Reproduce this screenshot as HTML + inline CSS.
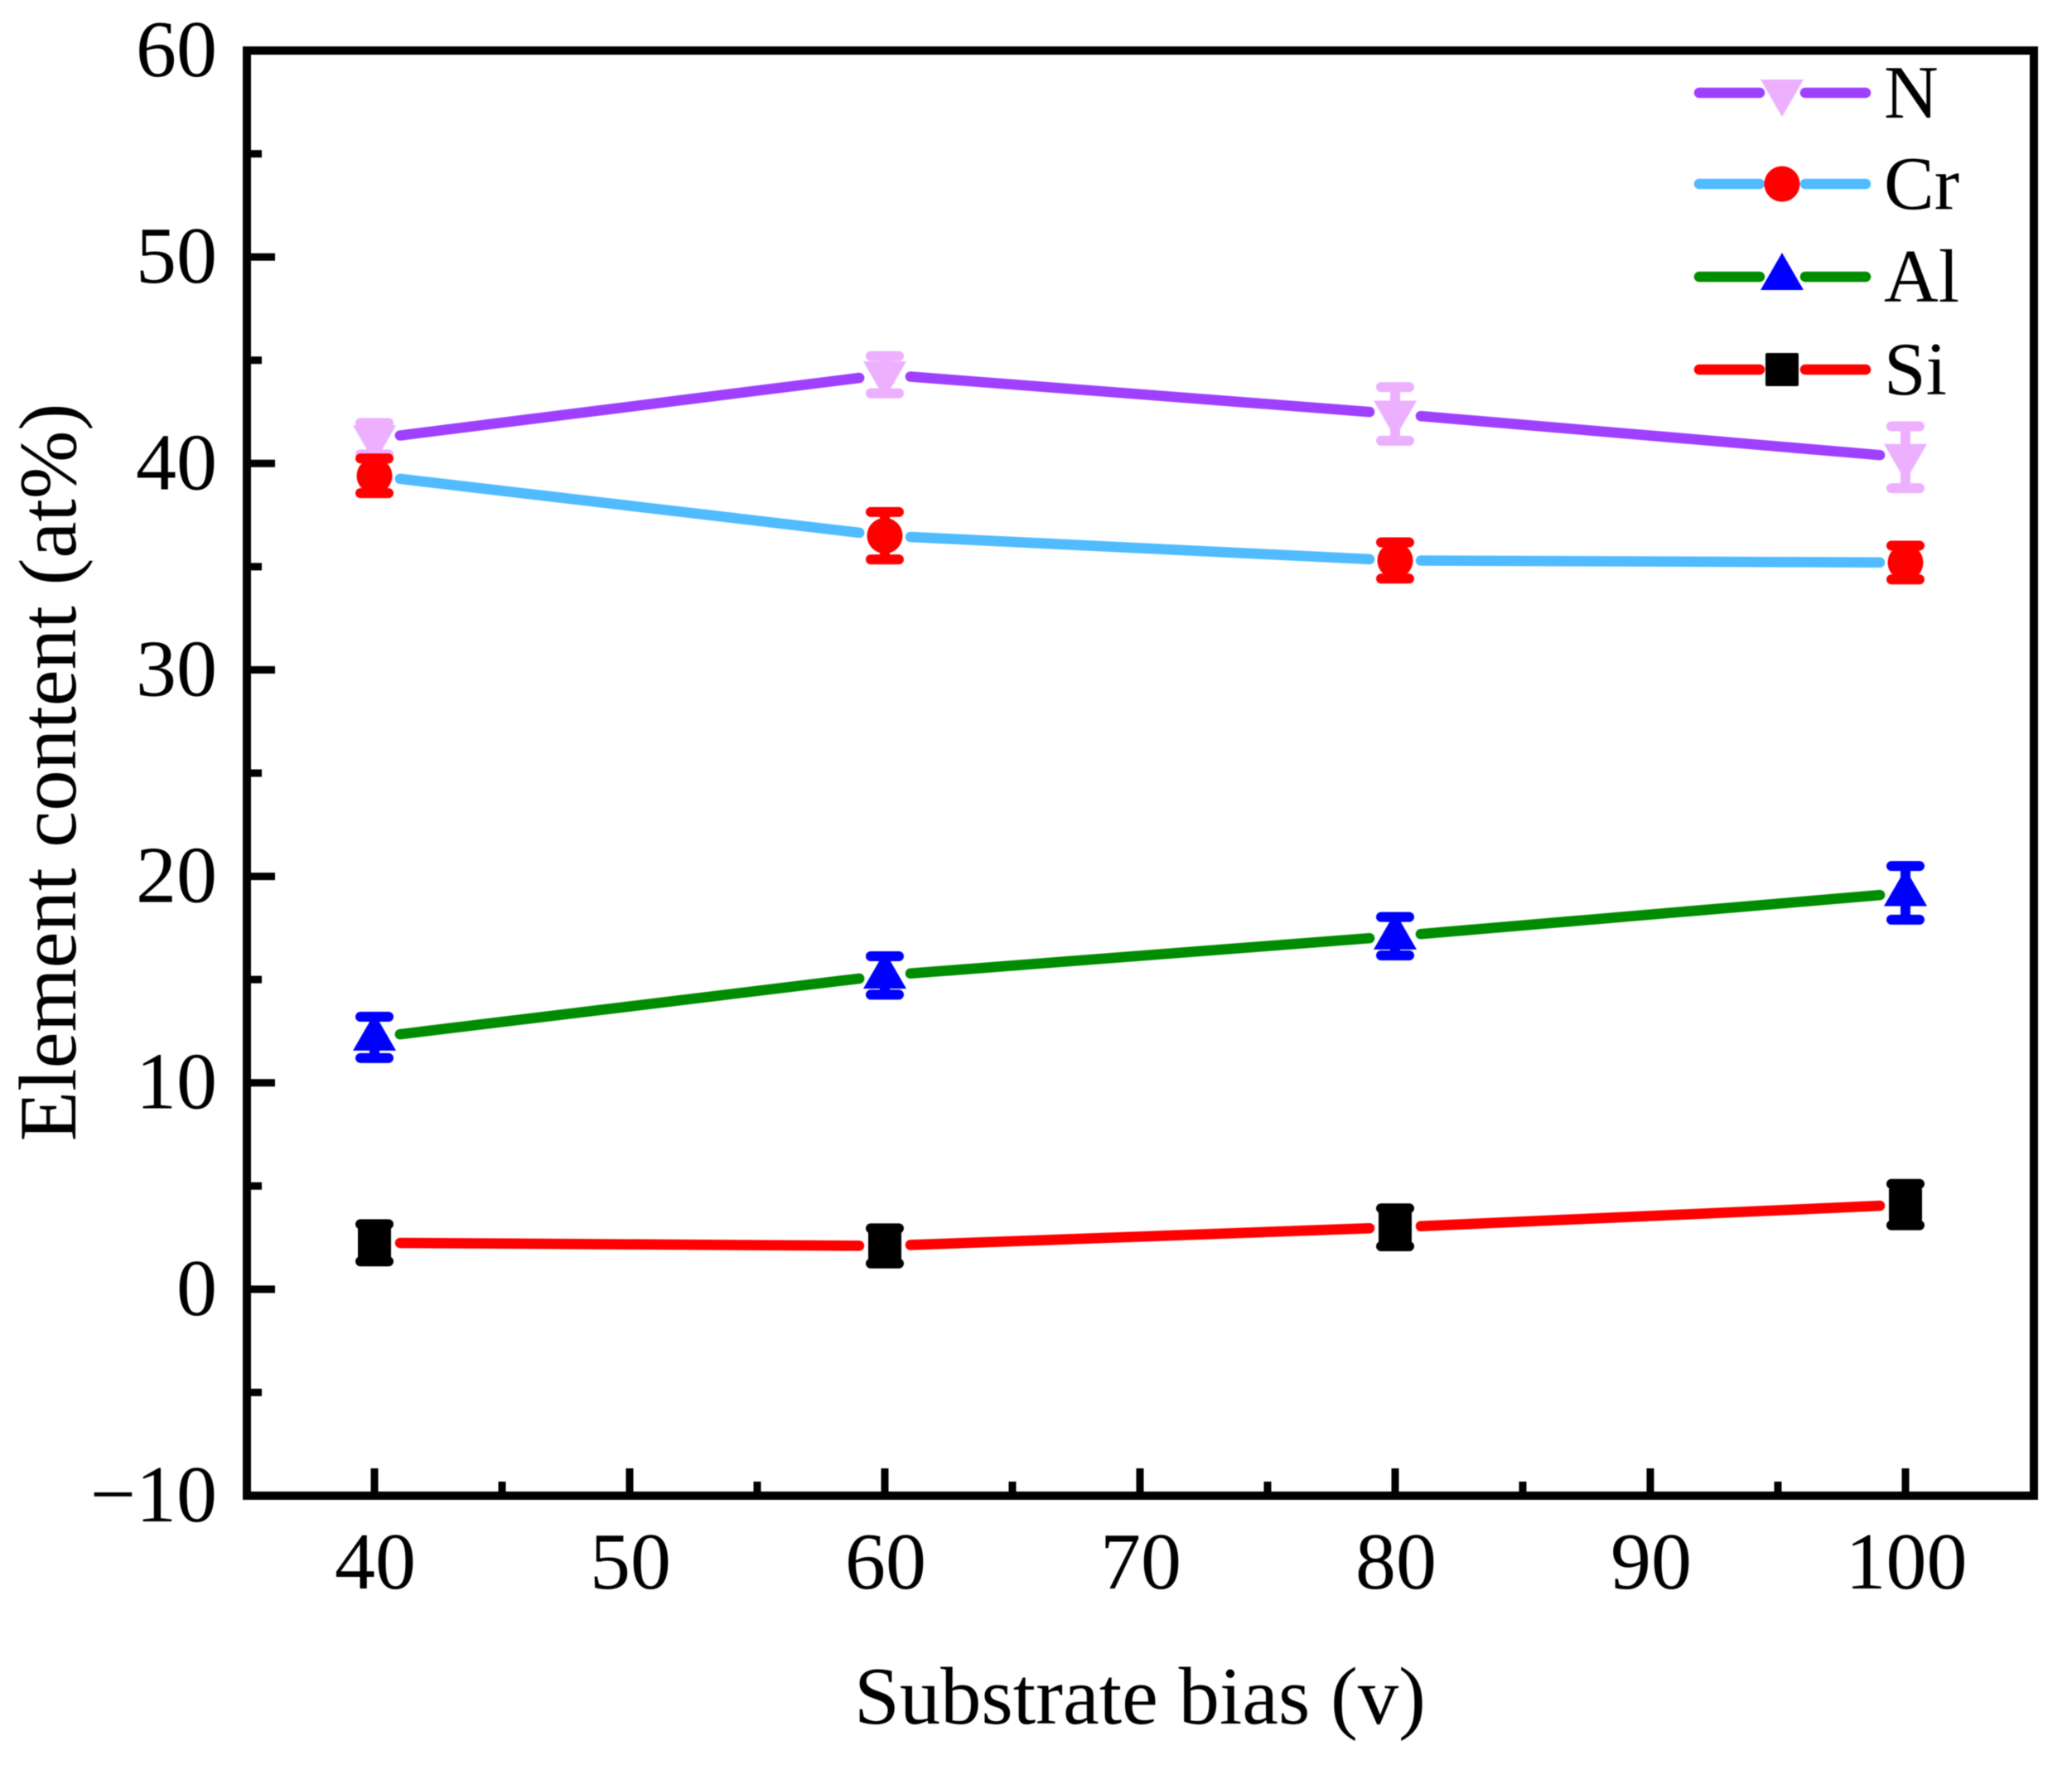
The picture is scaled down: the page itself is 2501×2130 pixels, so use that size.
<!DOCTYPE html>
<html>
<head>
<meta charset="utf-8">
<style>
html,body{margin:0;padding:0;background:#fff;}
svg{display:block;filter:blur(0.6px);}
text{font-family:"Liberation Serif",serif;fill:#000;}
</style>
</head>
<body>
<svg id="chart" xmlns="http://www.w3.org/2000/svg" width="2501" height="2130" viewBox="0 0 2501 2130"></svg>
<script>
const xCategories = [40, 60, 80, 100];
const xTickValues = [40, 50, 60, 70, 80, 90, 100];
const xMinorValues = [45, 55, 65, 75, 85, 95];
const yTickValues = [-10, 0, 10, 20, 30, 40, 50, 60];
const yMinorValues = [-5, 5, 15, 25, 35, 45, 55];
const nValues = [41.2, 44.3, 42.4, 40.3];
const nErrors = [0.76, 0.9, 1.3, 1.5];
const crValues = [39.4, 36.5, 35.3, 35.2];
const crErrors = [0.84, 1.15, 0.88, 0.82];
const alValues = [12.2, 15.2, 17.1, 19.2];
const alErrors = [1.0, 0.93, 0.93, 1.3];
const siValues = [2.25, 2.1, 3.0, 4.1];
const siErrors = [0.9, 0.85, 0.92, 1.0];
const seriesNames = ['N', 'Cr', 'Al', 'Si'];

const NS = 'http://www.w3.org/2000/svg';
const svg = document.getElementById('chart');
const L = 298, R = 2455, T = 61, B = 1805;
const xPx = v => 452 + (v - 40) * (2300 - 452) / 60;
const yPx = v => T + (60 - v) * (B - T) / 70;

function make(tag, attrs, parent) {
  const el = document.createElementNS(NS, tag);
  for (const k in attrs) el.setAttribute(k, attrs[k]);
  (parent || svg).appendChild(el);
  return el;
}
function marker(kind, cx, cy, color, parent) {
  let el;
  if (kind === 'down') {
    el = make('polygon', {points: (cx-26)+','+(cy-16)+' '+(cx+26)+','+(cy-16)+' '+cx+','+(cy+29), fill: color}, parent);
  } else if (kind === 'up') {
    el = make('polygon', {points: (cx-26)+','+(cy+16)+' '+(cx+26)+','+(cy+16)+' '+cx+','+(cy-29), fill: color}, parent);
  } else if (kind === 'circle') {
    el = make('ellipse', {cx: cx, cy: cy, rx: 21.5, ry: 21.5, fill: color}, parent);
  } else {
    el = make('rect', {x: cx-20, y: cy-20, width: 40, height: 40, rx: 2, fill: color}, parent);
  }
  return el;
}

/* axes */
const frame = make('rect', {x: L, y: T, width: R - L, height: B - T, fill: 'none', stroke: '#000', 'stroke-width': 10});



yTickValues.forEach(v => {
  const t = make('line', {x1: L, x2: L + 34, y1: yPx(v), y2: yPx(v), stroke: '#000', 'stroke-width': 9});
  
  
  const lb = make('text', {x: 262, y: yPx(v) + 31, 'font-size': 98, 'text-anchor': 'end'});
  lb.textContent = v < 0 ? '\u2212' + Math.abs(v) : String(v);
  
  
});
yMinorValues.forEach(v => {
  const t = make('line', {x1: L, x2: L + 18, y1: yPx(v), y2: yPx(v), stroke: '#000', 'stroke-width': 9});
  
  
});
xTickValues.forEach(v => {
  const t = make('line', {x1: xPx(v), x2: xPx(v), y1: B, y2: B - 33, stroke: '#000', 'stroke-width': 9});
  
  
  const lb = make('text', {x: xPx(v) + 1, y: 1917, 'font-size': 98, 'text-anchor': 'middle'});
  lb.textContent = String(v);
  
  
});
xMinorValues.forEach(v => {
  const t = make('line', {x1: xPx(v), x2: xPx(v), y1: B, y2: B - 17, stroke: '#000', 'stroke-width': 9});
  
  
});

const xTitle = make('text', {x: 1376, y: 2080, 'font-size': 98.6, 'text-anchor': 'middle'});
xTitle.textContent = 'Substrate bias (v)';



const yTitle = make('text', {x: 0, y: 0, 'font-size': 99, 'text-anchor': 'middle', transform: 'translate(91 932) rotate(-90)'});
yTitle.textContent = 'Element content (at%)';



/* series */
const seriesData = [nValues, crValues, alValues, siValues];
const seriesErrors = [nErrors, crErrors, alErrors, siErrors];
const lineColors = ['#a040ff', '#50bbff', '#008c00', '#ff0000'];
const markerColors = ['#ecb0ff', '#ff0000', '#0000ff', '#000000'];
const markerKinds = ['down', 'circle', 'up', 'square'];
const GAP = 25;

seriesNames.forEach((name, s) => {
  const g = make('g', {});
  
  
  const vals = seriesData[s], errs = seriesErrors[s];
  for (let i = 0; i < vals.length - 1; i++) {
    const x1 = xPx(xCategories[i]), y1 = yPx(vals[i]);
    const x2 = xPx(xCategories[i + 1]), y2 = yPx(vals[i + 1]);
    const d = Math.hypot(x2 - x1, y2 - y1);
    const ux = (x2 - x1) / d, uy = (y2 - y1) / d;
    const seg = make('line', {x1: x1 + ux * GAP + 6 * ux, y1: y1 + uy * GAP + 6 * uy, x2: x2 - ux * GAP - 6 * ux, y2: y2 - uy * GAP - 6 * uy,
      stroke: lineColors[s], 'stroke-width': 12.5, 'stroke-linecap': 'round'}, g);
    
    
  }
  vals.forEach((v, i) => {
    const cx = xPx(xCategories[i]), top = yPx(v + errs[i]), bot = yPx(v - errs[i]);
    const eb = make('path', {d: 'M' + cx + ' ' + top + 'V' + bot + 'M' + (cx - 17) + ' ' + top + 'H' + (cx + 17) + 'M' + (cx - 17) + ' ' + bot + 'H' + (cx + 17),
      stroke: markerColors[s], 'stroke-width': 12, 'stroke-linecap': 'round', fill: 'none'}, g);
    
    
    const m = marker(markerKinds[s], cx, yPx(v), markerColors[s], g);
    
    
  });
});

/* legend */
const legendRows = [112, 222, 334, 446];
seriesNames.forEach((name, s) => {
  const y = legendRows[s];
  const g = make('g', {});
  
  
  make('line', {x1: 2051, x2: 2124, y1: y, y2: y, stroke: lineColors[s], 'stroke-width': 12.5, 'stroke-linecap': 'round'}, g);
  make('line', {x1: 2179, x2: 2252, y1: y, y2: y, stroke: lineColors[s], 'stroke-width': 12.5, 'stroke-linecap': 'round'}, g);
  marker(markerKinds[s], 2151, y, markerColors[s], g);
  const t = make('text', {x: 2274, y: y + 30, 'font-size': 91}, g);
  t.textContent = name;
});
</script>
</body>
</html>
